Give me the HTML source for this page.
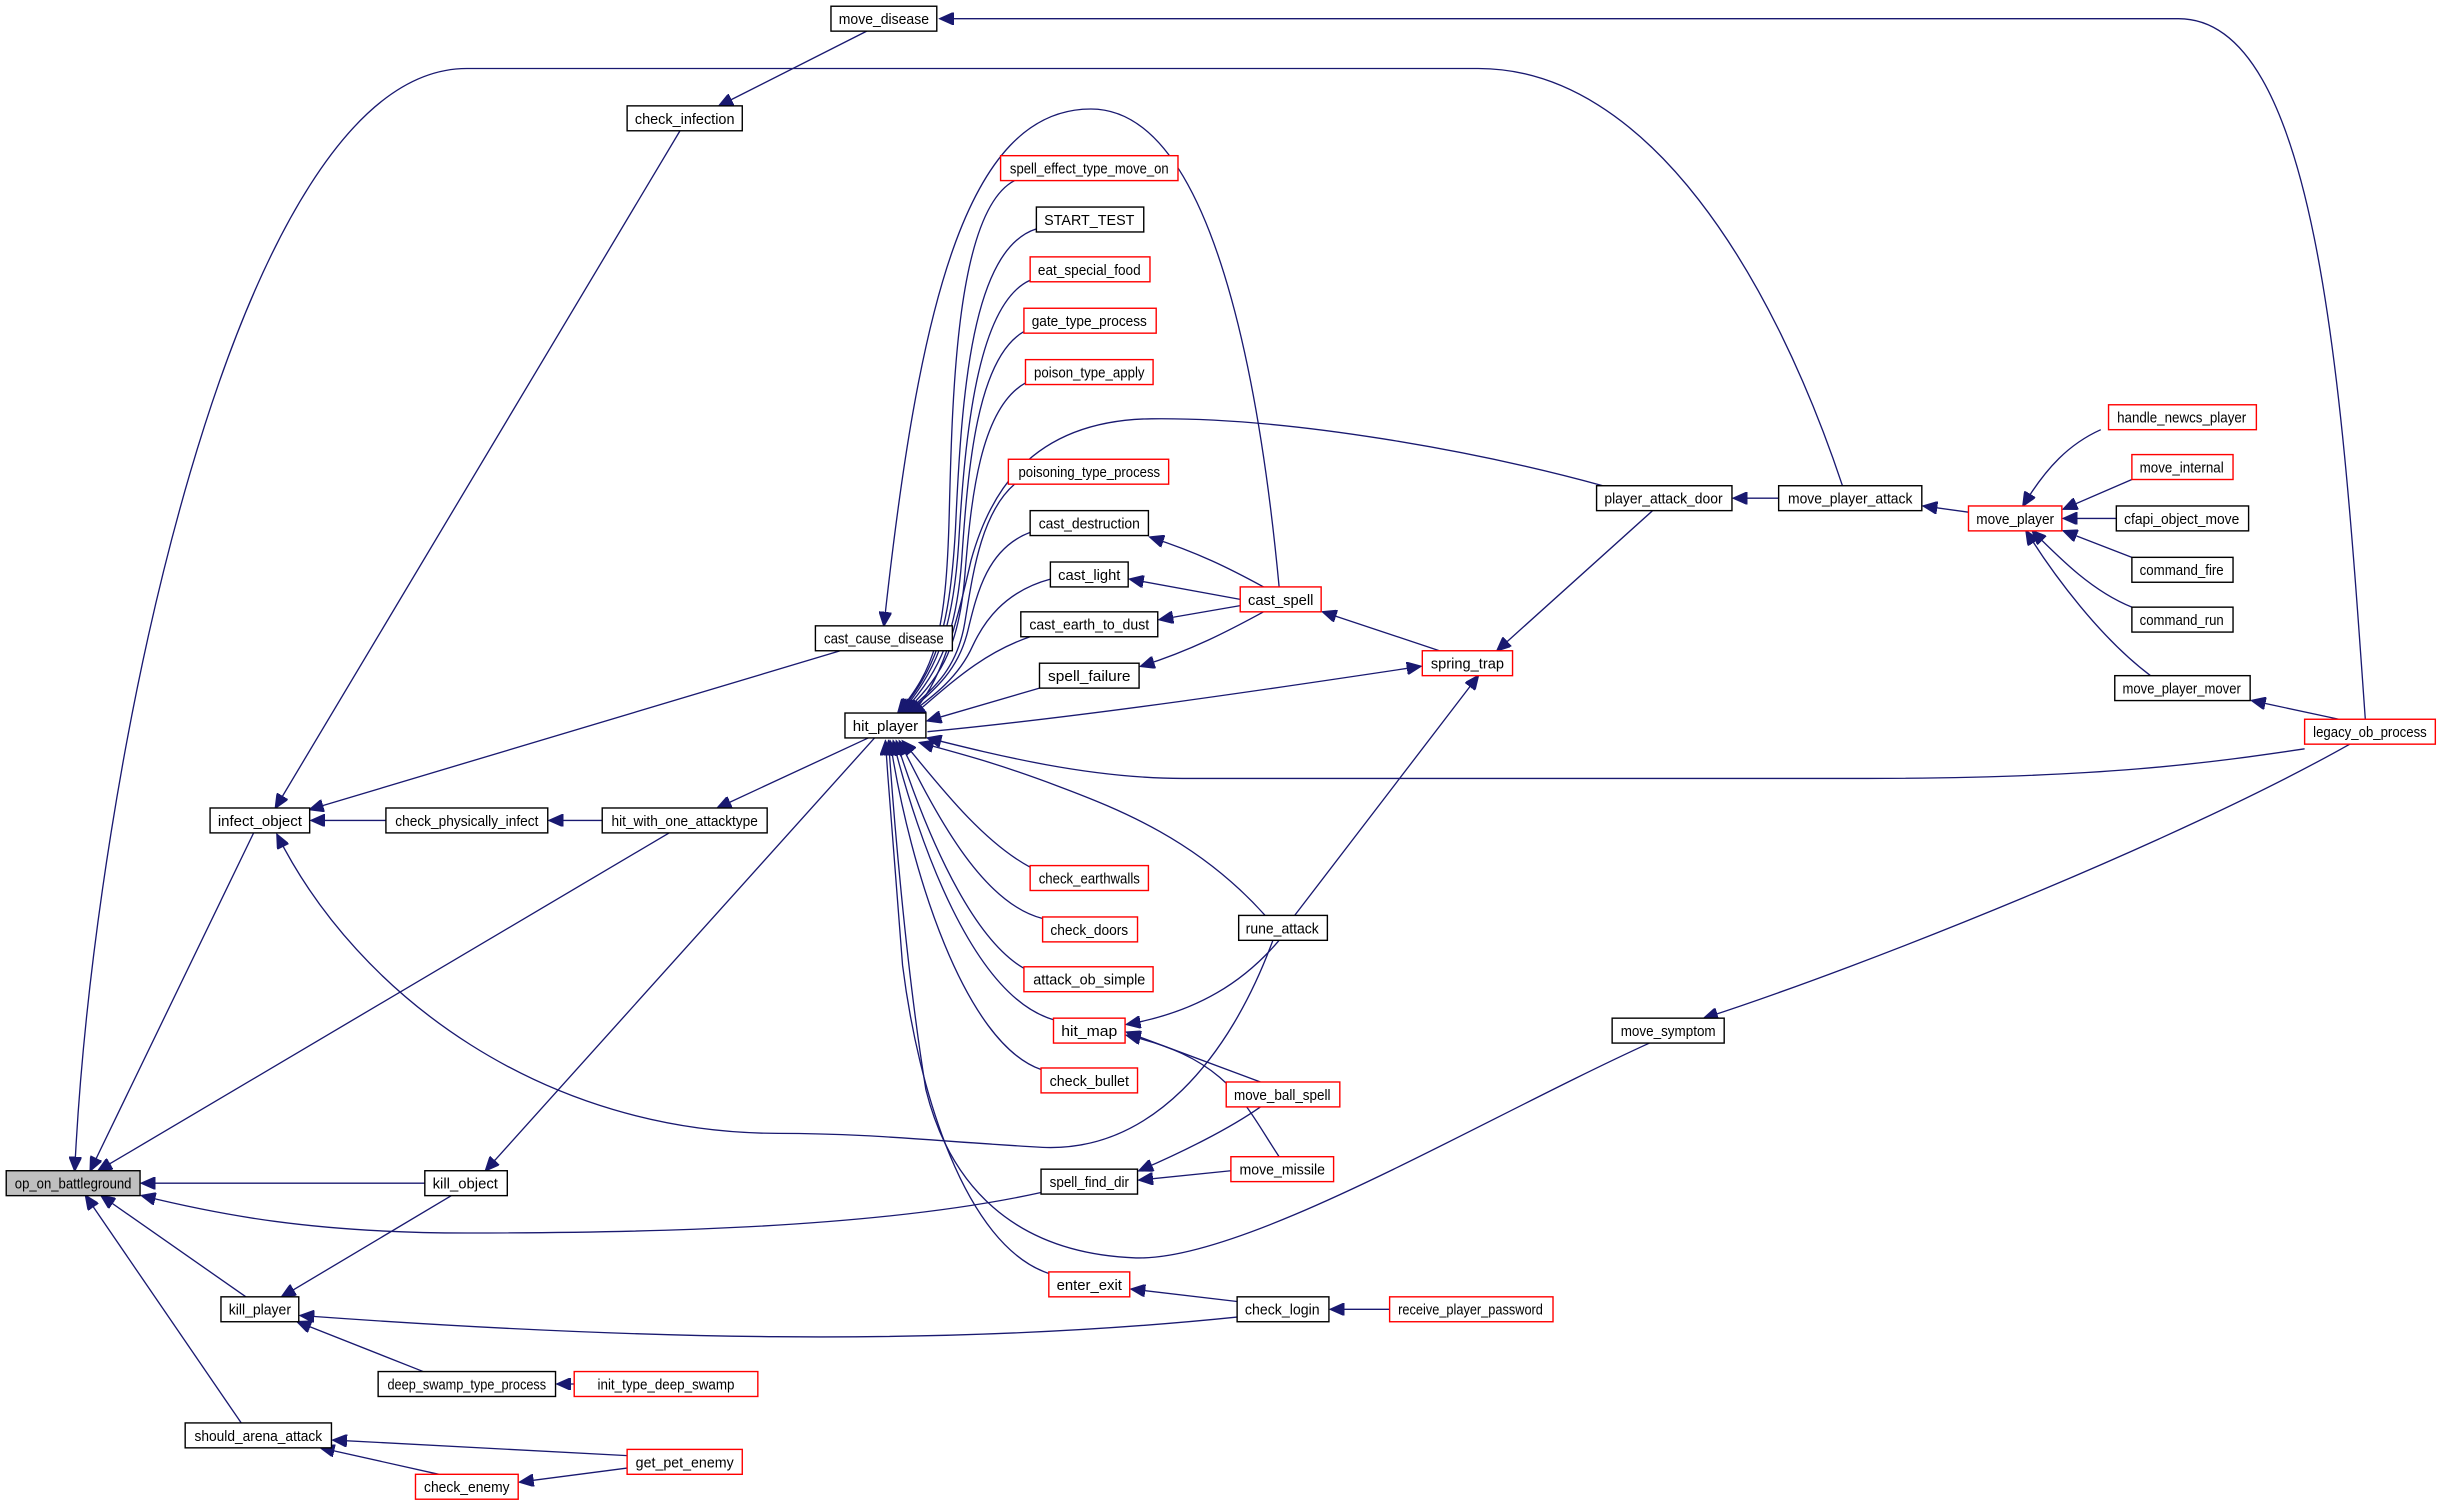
<!DOCTYPE html>
<html><head><meta charset="utf-8"><style>
html,body{margin:0;padding:0;background:#fff;}
svg{display:block;}
text{font-family:"Liberation Sans",sans-serif;font-size:9.4px;fill:#000;}
.e{fill:none;stroke:#191970;stroke-width:0.85;}
.b{fill:#fff;stroke:#000;stroke-width:0.9;}
.r{fill:#fff;stroke:#f00;stroke-width:0.9;}
</style></head><body>
<svg width="2440" height="1507" viewBox="0 0 1568 968" preserveAspectRatio="none" xmlns="http://www.w3.org/2000/svg">
<defs><marker id="a" markerUnits="userSpaceOnUse" markerWidth="10" markerHeight="8" refX="9" refY="4" orient="auto"><path d="M0,0 L9,4 L0,8 Z" fill="#191970" stroke="#191970"/></marker></defs>
<g marker-end="url(#a)">
<path class="e" d="M1520,462 C1505,250 1490,12 1400,12 L604,12"/>
<path class="e" d="M557,20 L462,68"/>
<path class="e" d="M437,84 L177,519"/>
<path class="e" d="M1184,312 C1140,180 1060,44 950,44 L300,44 C150,44 60,500 48,752"/>
<path class="e" d="M430,535 L63,752"/>
<path class="e" d="M163,535 L58,752"/>
<path class="e" d="M273,760 L91,760"/>
<path class="e" d="M669,766 C560,790 400,792 300,792 C200,792 140,780 91,768"/>
<path class="e" d="M158,833 L65,768"/>
<path class="e" d="M155,914 L55,768"/>
<path class="e" d="M248,527 L200,527"/>
<path class="e" d="M387,527 L353,527"/>
<path class="e" d="M540,418 L199,520"/>
<path class="e" d="M818,604 C790,680 740,740 670,737 C600,733 560,728 500,728 C350,728 230,640 178,536"/>
<path class="e" d="M822,377 C810,250 780,70 701,70 C620,70 590,200 568,402"/>
<path class="e" d="M558,474 L461,519"/>
<path class="e" d="M562,474 L312,752"/>
<path class="e" d="M290,768 L181,833"/>
<path class="e" d="M795,846 C600,866 400,860 193,845"/>
<path class="e" d="M272,881 L191,849"/>
<path class="e" d="M369,889 L358,889"/>
<path class="e" d="M403,935 L214,925"/>
<path class="e" d="M282,947 L206,930"/>
<path class="e" d="M403,943 L334,952"/>
<path class="e" d="M652,116 C615,135 612,250 610,330 C608,410 600,430 577,458"/>
<path class="e" d="M666,147 C625,160 618,250 614,340 C610,410 600,430 578,458"/>
<path class="e" d="M662,180 C628,195 620,280 616,350 C612,410 600,432 579,458"/>
<path class="e" d="M658,213 C628,230 622,300 618,360 C614,415 600,435 580,458"/>
<path class="e" d="M659,246 C630,262 624,320 620,370 C616,420 602,437 581,458"/>
<path class="e" d="M652,311 C630,330 625,370 620,400 C615,430 600,442 582,458"/>
<path class="e" d="M662,342 C635,352 628,380 622,405 C616,430 602,442 583,458"/>
<path class="e" d="M675,372 C645,380 632,400 625,415 C616,435 600,447 584,459"/>
<path class="e" d="M662,409 C630,420 610,440 586,460"/>
<path class="e" d="M668,442 L596,463"/>
<path class="e" d="M1030,312 C950,290 830,268 740,269 C660,270 635,320 624,360 C615,400 605,440 585,459"/>
<path class="e" d="M596,470 C700,460 820,442 913,428"/>
<path class="e" d="M1481,481 C1420,490 1350,500 1200,500 L760,500 C700,500 640,485 596,474"/>
<path class="e" d="M813,588 C770,540 720,520 680,505 C640,490 620,485 591,477"/>
<path class="e" d="M662,557 C630,540 600,500 580,476"/>
<path class="e" d="M670,590 C630,580 600,520 578,476"/>
<path class="e" d="M658,622 C620,600 590,520 576,476"/>
<path class="e" d="M677,655 C625,640 590,540 574,476"/>
<path class="e" d="M669,687 C620,670 585,560 572,476"/>
<path class="e" d="M674,818 C620,800 590,700 580,620 C575,560 572,520 569,476"/>
<path class="e" d="M1060,670 C950,720 800,810 730,808 C650,805 610,760 595,700 C582,620 574,520 571,476"/>
<path class="e" d="M812,377 C790,365 770,355 739,345"/>
<path class="e" d="M797,385 L726,372"/>
<path class="e" d="M797,389 L745,398"/>
<path class="e" d="M812,393 C790,405 765,418 733,428"/>
<path class="e" d="M925,418 L850,393"/>
<path class="e" d="M1062,328 L962,418"/>
<path class="e" d="M832,588 L950,434"/>
<path class="e" d="M1143,320 L1114,320"/>
<path class="e" d="M1265,329 L1236,325"/>
<path class="e" d="M1350,276 C1330,285 1315,300 1300,325"/>
<path class="e" d="M1370,308 L1326,327"/>
<path class="e" d="M1360,333 L1326,333"/>
<path class="e" d="M1370,358 L1326,341"/>
<path class="e" d="M1370,390 C1345,380 1325,360 1306,341"/>
<path class="e" d="M1382,434 C1350,410 1320,370 1302,341"/>
<path class="e" d="M1503,462 L1447,450"/>
<path class="e" d="M1510,478 C1400,540 1200,620 1095,654"/>
<path class="e" d="M822,604 C800,630 770,650 724,658"/>
<path class="e" d="M810,695 L724,663"/>
<path class="e" d="M822,743 C800,710 790,680 724,665"/>
<path class="e" d="M810,711 C790,725 760,740 732,752"/>
<path class="e" d="M791,752 L732,758"/>
<path class="e" d="M795,836 L727,828"/>
<path class="e" d="M893,841 L855,841"/>
</g>
<g lengthAdjust="spacingAndGlyphs">
<rect class="b" x="534" y="4" width="68" height="16"/><text x="568" y="15.5" text-anchor="middle" textLength="58" lengthAdjust="spacingAndGlyphs">move_disease</text>
<rect class="b" x="403" y="68" width="74" height="16"/><text x="440" y="79.5" text-anchor="middle" textLength="64" lengthAdjust="spacingAndGlyphs">check_infection</text>
<rect class="r" x="643" y="100" width="114" height="16"/><text x="700" y="111.5" text-anchor="middle" textLength="102" lengthAdjust="spacingAndGlyphs">spell_effect_type_move_on</text>
<rect class="b" x="666" y="133" width="69" height="16"/><text x="700" y="144.5" text-anchor="middle" textLength="58" lengthAdjust="spacingAndGlyphs">START_TEST</text>
<rect class="r" x="662" y="165" width="77" height="16"/><text x="700" y="176.5" text-anchor="middle" textLength="66" lengthAdjust="spacingAndGlyphs">eat_special_food</text>
<rect class="r" x="658" y="198" width="85" height="16"/><text x="700" y="209.5" text-anchor="middle" textLength="74" lengthAdjust="spacingAndGlyphs">gate_type_process</text>
<rect class="r" x="659" y="231" width="82" height="16"/><text x="700" y="242.5" text-anchor="middle" textLength="71" lengthAdjust="spacingAndGlyphs">poison_type_apply</text>
<rect class="r" x="648" y="295" width="103" height="16"/><text x="700" y="306.5" text-anchor="middle" textLength="91" lengthAdjust="spacingAndGlyphs">poisoning_type_process</text>
<rect class="b" x="662" y="328" width="76" height="16"/><text x="700" y="339.5" text-anchor="middle" textLength="65" lengthAdjust="spacingAndGlyphs">cast_destruction</text>
<rect class="b" x="675" y="361" width="50" height="16"/><text x="700" y="372.5" text-anchor="middle" textLength="40" lengthAdjust="spacingAndGlyphs">cast_light</text>
<rect class="b" x="656" y="393" width="88" height="16"/><text x="700" y="404.5" text-anchor="middle" textLength="77" lengthAdjust="spacingAndGlyphs">cast_earth_to_dust</text>
<rect class="b" x="668" y="426" width="64" height="16"/><text x="700" y="437.5" text-anchor="middle" textLength="53" lengthAdjust="spacingAndGlyphs">spell_failure</text>
<rect class="b" x="524" y="402" width="88" height="16"/><text x="568" y="413.5" text-anchor="middle" textLength="77" lengthAdjust="spacingAndGlyphs">cast_cause_disease</text>
<rect class="b" x="543" y="458" width="52" height="16"/><text x="569" y="469.5" text-anchor="middle" textLength="42" lengthAdjust="spacingAndGlyphs">hit_player</text>
<rect class="b" x="135" y="519" width="64" height="16"/><text x="167" y="530.5" text-anchor="middle" textLength="54" lengthAdjust="spacingAndGlyphs">infect_object</text>
<rect class="b" x="248" y="519" width="104" height="16"/><text x="300" y="530.5" text-anchor="middle" textLength="92" lengthAdjust="spacingAndGlyphs">check_physically_infect</text>
<rect class="b" x="387" y="519" width="106" height="16"/><text x="440" y="530.5" text-anchor="middle" textLength="94" lengthAdjust="spacingAndGlyphs">hit_with_one_attacktype</text>
<rect class="r" x="797" y="377" width="52" height="16"/><text x="823" y="388.5" text-anchor="middle" textLength="42" lengthAdjust="spacingAndGlyphs">cast_spell</text>
<rect class="r" x="914" y="418" width="58" height="16"/><text x="943" y="429.5" text-anchor="middle" textLength="47" lengthAdjust="spacingAndGlyphs">spring_trap</text>
<rect class="b" x="1026" y="312" width="87" height="16"/><text x="1069" y="323.5" text-anchor="middle" textLength="76" lengthAdjust="spacingAndGlyphs">player_attack_door</text>
<rect class="b" x="1143" y="312" width="92" height="16"/><text x="1189" y="323.5" text-anchor="middle" textLength="80" lengthAdjust="spacingAndGlyphs">move_player_attack</text>
<rect class="r" x="1265" y="325" width="60" height="16"/><text x="1295" y="336.5" text-anchor="middle" textLength="50" lengthAdjust="spacingAndGlyphs">move_player</text>
<rect class="r" x="1355" y="260" width="95" height="16"/><text x="1402" y="271.5" text-anchor="middle" textLength="83" lengthAdjust="spacingAndGlyphs">handle_newcs_player</text>
<rect class="r" x="1370" y="292" width="65" height="16"/><text x="1402" y="303.5" text-anchor="middle" textLength="54" lengthAdjust="spacingAndGlyphs">move_internal</text>
<rect class="b" x="1360" y="325" width="85" height="16"/><text x="1402" y="336.5" text-anchor="middle" textLength="74" lengthAdjust="spacingAndGlyphs">cfapi_object_move</text>
<rect class="b" x="1370" y="358" width="65" height="16"/><text x="1402" y="369.5" text-anchor="middle" textLength="54" lengthAdjust="spacingAndGlyphs">command_fire</text>
<rect class="b" x="1370" y="390" width="65" height="16"/><text x="1402" y="401.5" text-anchor="middle" textLength="54" lengthAdjust="spacingAndGlyphs">command_run</text>
<rect class="b" x="1359" y="434" width="87" height="16"/><text x="1402" y="445.5" text-anchor="middle" textLength="76" lengthAdjust="spacingAndGlyphs">move_player_mover</text>
<rect class="r" x="1481" y="462" width="84" height="16"/><text x="1523" y="473.5" text-anchor="middle" textLength="73" lengthAdjust="spacingAndGlyphs">legacy_ob_process</text>
<rect class="r" x="662" y="556" width="76" height="16"/><text x="700" y="567.5" text-anchor="middle" textLength="65" lengthAdjust="spacingAndGlyphs">check_earthwalls</text>
<rect class="r" x="670" y="589" width="61" height="16"/><text x="700" y="600.5" text-anchor="middle" textLength="50" lengthAdjust="spacingAndGlyphs">check_doors</text>
<rect class="r" x="658" y="621" width="83" height="16"/><text x="700" y="632.5" text-anchor="middle" textLength="72" lengthAdjust="spacingAndGlyphs">attack_ob_simple</text>
<rect class="r" x="677" y="654" width="46" height="16"/><text x="700" y="665.5" text-anchor="middle" textLength="36" lengthAdjust="spacingAndGlyphs">hit_map</text>
<rect class="r" x="669" y="686" width="62" height="16"/><text x="700" y="697.5" text-anchor="middle" textLength="51" lengthAdjust="spacingAndGlyphs">check_bullet</text>
<rect class="b" x="796" y="588" width="57" height="16"/><text x="824" y="599.5" text-anchor="middle" textLength="47" lengthAdjust="spacingAndGlyphs">rune_attack</text>
<rect class="b" x="1036" y="654" width="72" height="16"/><text x="1072" y="665.5" text-anchor="middle" textLength="61" lengthAdjust="spacingAndGlyphs">move_symptom</text>
<rect class="r" x="788" y="695" width="73" height="16"/><text x="824" y="706.5" text-anchor="middle" textLength="62" lengthAdjust="spacingAndGlyphs">move_ball_spell</text>
<rect class="r" x="791" y="743" width="66" height="16"/><text x="824" y="754.5" text-anchor="middle" textLength="55" lengthAdjust="spacingAndGlyphs">move_missile</text>
<rect class="b" x="669" y="751" width="62" height="16"/><text x="700" y="762.5" text-anchor="middle" textLength="51" lengthAdjust="spacingAndGlyphs">spell_find_dir</text>
<rect x="4" y="752" width="86" height="16" fill="#bfbfbf" stroke="#000" stroke-width="0.9"/><text x="47" y="763.5" text-anchor="middle" textLength="75" lengthAdjust="spacingAndGlyphs">op_on_battleground</text>
<rect class="b" x="273" y="752" width="53" height="16"/><text x="299" y="763.5" text-anchor="middle" textLength="42" lengthAdjust="spacingAndGlyphs">kill_object</text>
<rect class="b" x="142" y="833" width="50" height="16"/><text x="167" y="844.5" text-anchor="middle" textLength="40" lengthAdjust="spacingAndGlyphs">kill_player</text>
<rect class="r" x="674" y="817" width="52" height="16"/><text x="700" y="828.5" text-anchor="middle" textLength="42" lengthAdjust="spacingAndGlyphs">enter_exit</text>
<rect class="b" x="795" y="833" width="59" height="16"/><text x="824" y="844.5" text-anchor="middle" textLength="48" lengthAdjust="spacingAndGlyphs">check_login</text>
<rect class="r" x="893" y="833" width="105" height="16"/><text x="945" y="844.5" text-anchor="middle" textLength="93" lengthAdjust="spacingAndGlyphs">receive_player_password</text>
<rect class="b" x="243" y="881" width="114" height="16"/><text x="300" y="892.5" text-anchor="middle" textLength="102" lengthAdjust="spacingAndGlyphs">deep_swamp_type_process</text>
<rect class="r" x="369" y="881" width="118" height="16"/><text x="428" y="892.5" text-anchor="middle" textLength="88" lengthAdjust="spacingAndGlyphs">init_type_deep_swamp</text>
<rect class="b" x="119" y="914" width="94" height="16"/><text x="166" y="925.5" text-anchor="middle" textLength="82" lengthAdjust="spacingAndGlyphs">should_arena_attack</text>
<rect class="r" x="403" y="931" width="74" height="16"/><text x="440" y="942.5" text-anchor="middle" textLength="63" lengthAdjust="spacingAndGlyphs">get_pet_enemy</text>
<rect class="r" x="267" y="947" width="66" height="16"/><text x="300" y="958.5" text-anchor="middle" textLength="55" lengthAdjust="spacingAndGlyphs">check_enemy</text>
</g>
</svg>
</body></html>
